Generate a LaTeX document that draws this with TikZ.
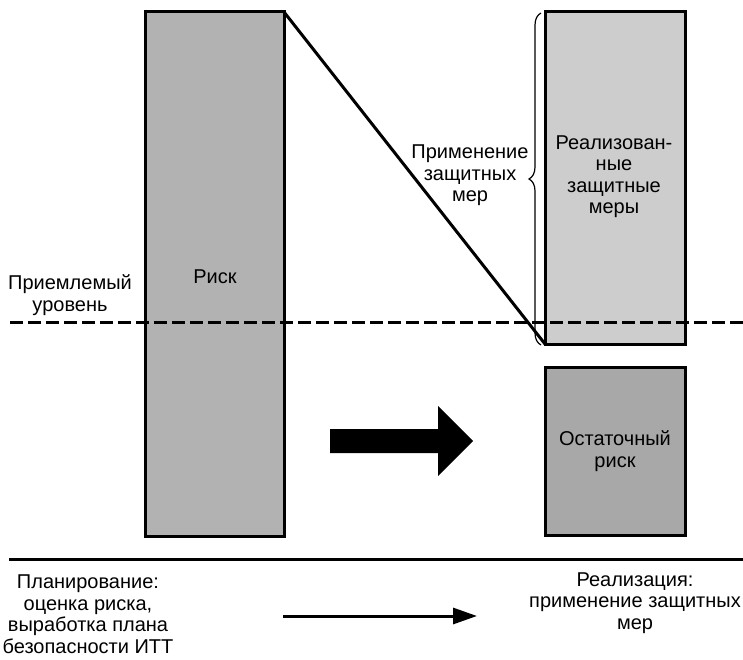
\documentclass[tikz,border=0pt]{standalone}
\usepackage{fontspec}
\setmainfont{Liberation Sans}
\usetikzlibrary{arrows.meta,decorations.pathreplacing}
\definecolor{riskgray}{RGB}{178,178,178}
\definecolor{implgray}{RGB}{205,205,205}
\definecolor{resgray}{RGB}{168,168,168}
\tikzset{
  bar/.style={draw=black, line width=3pt, inner sep=0pt, outer sep=0pt},
  lbl/.style={font=\fontsize{20}{21.5}\selectfont, align=center, inner sep=0pt, anchor=base},
  thick line/.style={line width=3pt},
}
\begin{document}
\begin{tikzpicture}[x=1pt,y=-1pt]
\useasboundingbox (0,0) rectangle (743,660);
% boxes
\node[bar, fill=riskgray, minimum width=139pt, minimum height=524pt] (risk) at (214.5,274) {};
\node[bar, fill=implgray, minimum width=140pt, minimum height=332pt] (impl) at (615,178) {};
\node[bar, fill=resgray, minimum width=140pt, minimum height=168pt] (res) at (615,451) {};
% texts (anchor base = baseline of the last line)
\node[lbl] (trisk) at (215,283) {Риск};
\node[lbl] (timpl) at (614,214) {Реализован-\\ные\\защитные\\меры};
\node[lbl] (tres) at (615,467) {Остаточный\\риск};
\node[lbl] (tapply) at (470,202) {Применение\\защитных\\мер};
\node[lbl] (taccept) at (70,311) {Приемлемый\\уровень};
\node[lbl] (tplan) at (88,653) {Планирование:\\оценка риска,\\выработка плана\\безопасности ИТТ};
\node[lbl] (trealize) at (635,629) {Реализация:\\применение защитных\\мер};
% diagonal
\draw[thick line] (risk.north east) -- (impl.south west);
% acceptable level
\coordinate (dl) at (10,322);
\coordinate (dr) at (743,322);
\draw[thick line, dash pattern=on 13pt off 5pt] (dl) -- (dr);
% brace
\coordinate (bb) at (541,345);
\coordinate (bt) at (541,13);
\draw[line width=1.2pt, decorate, decoration={brace, amplitude=12pt}] (bb) -- (bt);
% big arrow
\fill[black] (330,429) -- (438,429) -- (438,406) -- (473,441) -- (438,476) -- (438,453) -- (330,453) -- cycle;
% separator
\coordinate (sl) at (9,559);
\coordinate (sr) at (743,559);
\draw[thick line] (sl) -- (sr);
% bottom arrow
\coordinate (pa) at (283,616);
\coordinate (pb) at (477,616);
\draw[thick line, -{Triangle[length=24pt,width=16pt]}] (pa) -- (pb);
\end{tikzpicture}
\end{document}
